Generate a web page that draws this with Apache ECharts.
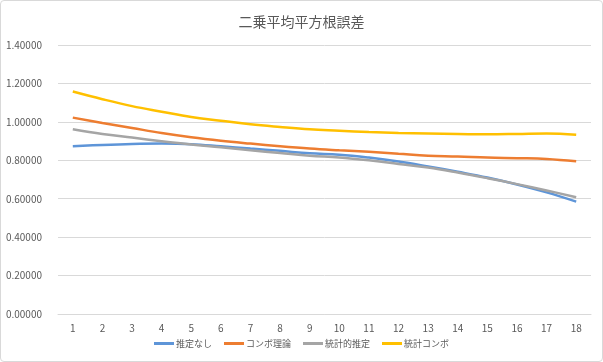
<!DOCTYPE html>
<html>
<head>
<meta charset="utf-8">
<script src="https://cdn.jsdelivr.net/npm/echarts@6/dist/echarts.min.js"></script>
<style>
html,body{margin:0;padding:0;background:#fff;}
#wrap{position:absolute;left:0;top:0;width:601px;height:360px;border:1px solid #d9d9d9;border-radius:4px;overflow:hidden;}
#c{width:601px;height:360px;}
</style>
</head>
<body>
<div id="wrap"><div id="c"></div></div>
<script>
const title = '二乗平均平方根誤差';
const categories = ['1','2','3','4','5','6','7','8','9','10','11','12','13','14','15','16','17','18'];
const seriesNames = ['推定なし','コンボ理論','統計的推定','統計コンボ'];
const noEstimate = [0.873,0.880,0.885,0.887,0.884,0.873,0.861,0.849,0.836,0.829,0.814,0.794,0.768,0.740,0.710,0.674,0.633,0.585];
const comboTheory = [1.022,0.994,0.968,0.942,0.920,0.902,0.887,0.873,0.861,0.852,0.844,0.834,0.824,0.820,0.814,0.811,0.807,0.795];
const statEstimate = [0.961,0.937,0.918,0.899,0.882,0.868,0.852,0.838,0.824,0.815,0.800,0.781,0.762,0.736,0.707,0.676,0.643,0.608];
const statCombo = [1.158,1.118,1.082,1.053,1.025,1.006,0.987,0.973,0.961,0.954,0.947,0.942,0.939,0.937,0.935,0.937,0.940,0.933];
const colors = ['#5E95D8','#ED7D31','#A5A5A5','#FFC000'];
const allData = [noEstimate, comboTheory, statEstimate, statCombo];

const font = '"Noto Sans CJK JP", "Noto Sans", sans-serif';
const chart = echarts.init(document.getElementById('c'), null, {renderer:'canvas'});
chart.setOption({
  animation:false,
  textStyle:{fontFamily:font},
  title:{text:title,left:'center',top:9,textStyle:{fontSize:14,fontWeight:'normal',color:'#595959',fontFamily:font}},
  color:colors,
  grid:{left:57,right:11,top:44,bottom:47,containLabel:false},
  legend:{
    bottom:8,left:'center',itemWidth:20,itemHeight:3,itemGap:12,
    icon:'rect',
    textStyle:{fontSize:9,color:'#595959',fontFamily:font,padding:[0,0,0,-3]},
    data:seriesNames
  },
  xAxis:{
    type:'category',data:categories,boundaryGap:true,
    axisLine:{show:true,lineStyle:{color:'#d9d9d9'}},
    axisTick:{show:false},
    axisLabel:{color:'#595959',fontSize:10,margin:9,fontFamily:font}
  },
  yAxis:{
    type:'value',min:0,max:1.4,interval:0.2,
    axisLine:{show:false},axisTick:{show:false},
    splitLine:{lineStyle:{color:'#d9d9d9',width:1}},
    axisLabel:{color:'#595959',fontSize:10,margin:16,fontFamily:font,formatter:v=>v.toFixed(5)}
  },
  series: seriesNames.map((n,i)=>({
    name:n,type:'line',smooth:0.4,showSymbol:false,symbol:'none',
    data:allData[i],
    lineStyle:{width:2.5,color:colors[i]},
    itemStyle:{color:colors[i]}
  }))
});
</script>
</body>
</html>
